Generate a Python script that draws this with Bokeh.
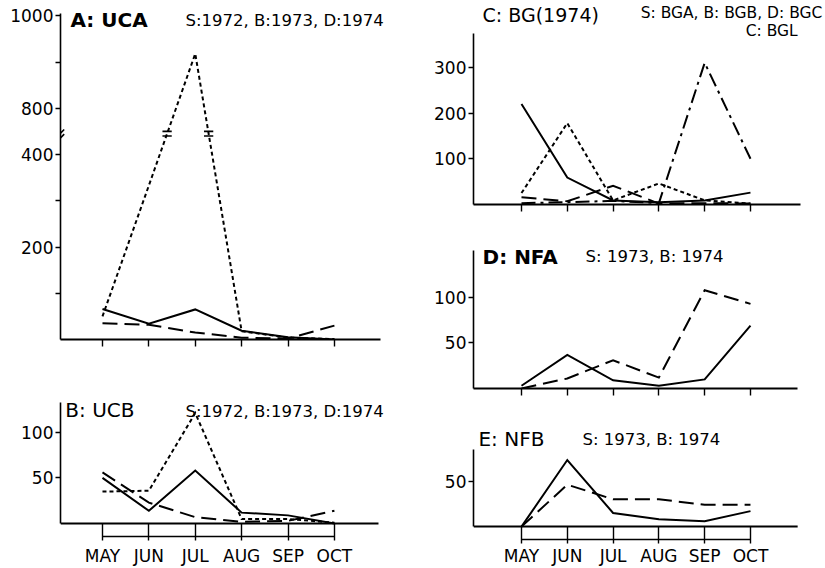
from bokeh.plotting import figure
from bokeh.models import Range1d, FixedTicker, Label
from bokeh.layouts import row, column
from bokeh.embed import file_html
from bokeh.resources import INLINE

# ---------------- data ----------------
months = ["MAY", "JUN", "JUL", "AUG", "SEP", "OCT"]
x_idx = [0, 1, 2, 3, 4, 5]

# Panel A: UCA  (S: 1972 solid, B: 1973 broken, D: 1974 dotted)
a_1972 = [66, 34, 65, 19, 5, 0]
a_1973 = [35, 32, 15, 4, 2, 30]
a_1974 = [50, 333, 918, 18, 4, 1]
a_ticks = [100, 200, 300, 400, 800, 900, 1000]
a_tick_labels = ["", "200", "", "400", "800", "", "1000"]
a_break_low = 450    # axis is broken between these two values
a_break_high = 750

# Panel B: UCB
b_1972 = [50, 14, 58, 12, 9, 0]
b_1973 = [56, 23, 7, 2, 3, 14]
b_1974 = [35, 36, 121, 5, 5, 1]
b_ticks = [50, 100]

# Panel C: BG(1974)  (S: BGA, B: BGB, D: BGC, C: BGL)
c_bga = [220, 59, 9, 5, 9, 26]
c_bgb = [16, 7, 41, 2, 3, 2]
c_bgc = [25, 178, 9, 46, 9, 2]
c_bgl = [3, 5, 8, 3, 310, 100]
c_ticks = [100, 200, 300]

# Panel D: NFA  (S: 1973, B: 1974)
d_1973 = [3, 37, 9, 3, 10, 69]
d_1974 = [0, 11, 31, 12, 108, 93]
d_ticks = [50, 100]

# Panel E: NFB  (S: 1973, B: 1974)
e_1973 = [0, 73, 15, 8, 6, 17]
e_1974 = [0, 46, 30, 30, 24, 24]
e_ticks = [50]

# ---------------- styles ----------------
FONT = "DejaVu Sans"
SOLID = "solid"
BROKEN = "15 7"
DOTTED = "4 3"
CHAIN = "14 5 3 5"
LW = 2
LEG = "16.5px"
TICK = "17px"


def a_disp(v):
    """map a value of panel A onto its broken axis"""
    if v <= a_break_low:
        return v
    return v - (a_break_high - a_break_low)


def make_panel(width, height, borders, xr, yr, yticks, ybounds, xline_end,
               ylabels=None, month_axis=False, tick_in=13, standoff=5):
    l, r, t, b = borders
    p = figure(width=width, height=height,
               x_range=Range1d(*xr), y_range=Range1d(*yr),
               output_backend="svg", toolbar_location=None,
               min_border_left=l, min_border_right=r,
               min_border_top=t, min_border_bottom=b)
    p.outline_line_color = None
    p.grid.visible = False
    p.background_fill_color = "white"
    p.border_fill_color = "white"

    ya = p.yaxis[0]
    ya.ticker = FixedTicker(ticks=yticks)
    if ylabels is not None:
        ya.major_label_overrides = ylabels
    ya.bounds = ybounds
    ya.axis_line_width = 1.6
    ya.axis_line_color = "black"
    ya.major_tick_out = 5
    ya.major_tick_in = 0
    ya.major_tick_line_width = 1.4
    ya.minor_tick_line_color = None
    ya.major_label_standoff = 2
    ya.major_label_text_font = FONT
    ya.major_label_text_font_size = TICK
    ya.major_label_text_color = "black"

    xa = p.xaxis[0]
    xa.ticker = FixedTicker(ticks=x_idx)
    xa.minor_tick_line_color = None
    xa.axis_line_color = "black"
    xa.major_tick_line_width = 1.4
    if month_axis:
        # bracket line with month ticks below the zero line
        xa.bounds = (x_idx[0], x_idx[-1])
        xa.axis_line_width = 1.4
        xa.major_tick_in = tick_in
        xa.major_tick_out = 4
        xa.major_label_overrides = {i: m for i, m in zip(x_idx, months)}
        xa.major_label_standoff = standoff
        xa.major_label_text_font = FONT
        xa.major_label_text_font_size = TICK
        xa.major_label_text_color = "black"
        # zero line (x axis proper)
        p.segment([xr[0]], [0], [xline_end], [0], line_color="black", line_width=2)
    else:
        xa.bounds = (xr[0], xline_end)
        xa.axis_line_width = 2
        xa.major_tick_in = 0
        xa.major_tick_out = 7
        xa.major_label_overrides = {i: "" for i in x_idx}
        xa.major_label_standoff = 0
        xa.major_label_text_font_size = "0px"
    return p


def add_text(p, x, y, text, size=LEG, bold=False, align="left"):
    p.add_layout(Label(x=x, y=y, text=text, text_font=FONT, text_font_size=size,
                       text_font_style="bold" if bold else "normal",
                       text_color="black", text_baseline="middle",
                       text_align=align))


def add_line(p, ys, dash):
    p.line(x_idx, ys, line_color="black", line_width=LW, line_dash=dash,
           line_join="miter")


# ---------------- left column ----------------
L_XR = (-0.905, 6.64)
a_ticks_disp = [a_disp(t) for t in a_ticks]
pA = make_panel(410, 350, (60, 0, 0, 11), L_XR, (0, 733),
                a_ticks_disp, (0, 705), 5.99,
                ylabels={d: s for d, s in zip(a_ticks_disp, a_tick_labels)})
add_line(pA, [a_disp(v) for v in a_1972], SOLID)
add_line(pA, [a_disp(v) for v in a_1973], BROKEN)
add_line(pA, [a_disp(v) for v in a_1974], DOTTED)
# break marks where the dotted line crosses the broken axis
brk = a_break_low - 5
dd = [a_disp(v) for v in a_1974]
bx0, bx1, by0, by1 = [], [], [], []
for i in range(len(dd) - 1):
    lo, hi = sorted((dd[i], dd[i + 1]))
    if lo < brk < hi:
        xc = x_idx[i] + (brk - dd[i]) / (dd[i + 1] - dd[i]) * (x_idx[i + 1] - x_idx[i])
        for yy in (brk - 5, brk + 5):
            bx0.append(xc - 0.1)
            bx1.append(xc + 0.1)
            by0.append(yy)
            by1.append(yy)
# break mark on the y axis
for yy in (brk - 5, brk + 5):
    bx0.append(L_XR[0])
    bx1.append(L_XR[0] + 0.08)
    by0.append(yy - 4)
    by1.append(yy + 4)
pA.segment(bx0, by0, bx1, by1, line_color="black", line_width=1.6)
add_text(pA, -0.69, 690, "A: UCA", size="20px", bold=True)
add_text(pA, 1.79, 690, "S:1972, B:1973, D:1974")

pB = make_panel(410, 218, (60, 0, 42, 31), L_XR, (-14.13, 143.5),
                b_ticks, (0, 132.6), 5.95, month_axis=True, tick_in=13, standoff=5)
add_line(pB, b_1972, SOLID)
add_line(pB, b_1973, BROKEN)
add_line(pB, b_1974, DOTTED)
add_text(pB, -0.80, 124, "B: UCB", size="20px")
add_text(pB, 1.79, 123, "S:1972, B:1973, D:1974")

# ---------------- right column ----------------
R_XR = (-1.048, 6.638)
pC = make_panel(415, 230, (63, 0, 0, 26), R_XR, (0, 446.4),
                c_ticks, (0, 374), 6.09)
add_line(pC, c_bga, SOLID)
add_line(pC, c_bgb, BROKEN)
add_line(pC, c_bgc, DOTTED)
add_line(pC, c_bgl, CHAIN)
add_text(pC, -0.85, 414.7, "C: BG(1974)", size="19px")
add_text(pC, 6.57, 419, "S: BGA, B: BGB, D: BGC", size="15.5px", align="right")
add_text(pC, 6.03, 378.6, "C: BGL", size="15.5px", align="right")

pD = make_panel(415, 182, (63, 0, 10, 24), R_XR, (0, 162.6),
                d_ticks, (0, 151.6), 6.03)
add_line(pD, d_1973, SOLID)
add_line(pD, d_1974, BROKEN)
add_text(pD, -0.85, 145, "D: NFA", size="20px", bold=True)
add_text(pD, 1.40, 145, "S: 1973,  B: 1974")

pE = make_panel(415, 156, (63, 0, 13, 28), R_XR, (-14.13, 110.9),
                e_ticks, (0, 84.8), 6.03, month_axis=True, tick_in=13, standoff=2)
add_line(pE, e_1973, SOLID)
add_line(pE, e_1974, BROKEN)
add_text(pE, -0.94, 95.7, "E: NFB", size="20px")
add_text(pE, 1.33, 95.7, "S: 1973,  B: 1974")

layout = row(column(pA, pB), column(pC, pD, pE))

with open("out.html", "w") as f:
    f.write(file_html(layout, INLINE))
